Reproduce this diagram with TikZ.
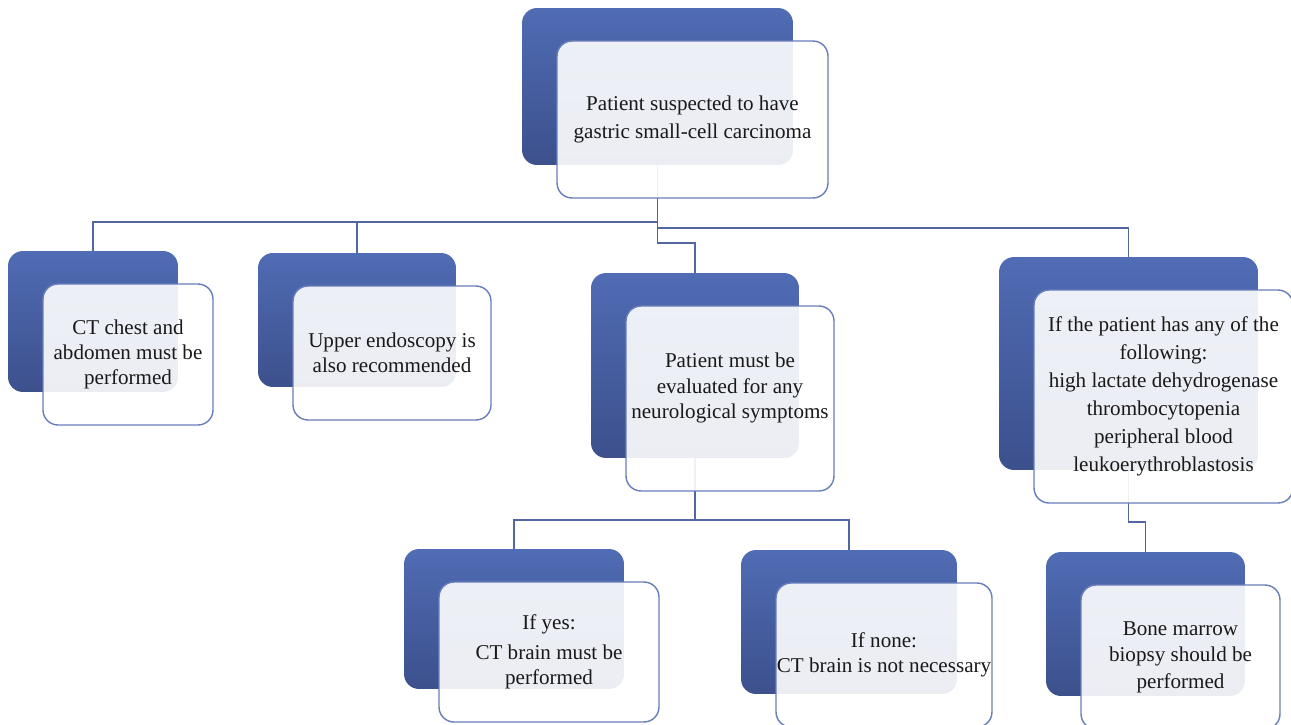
\documentclass[tikz,border=0pt]{standalone}
\usepackage{fontspec}
\setmainfont{Liberation Serif}
\usetikzlibrary{positioning}
\definecolor{boxtop}{RGB}{80,108,180}
\definecolor{boxbot}{RGB}{60,80,140}
\definecolor{rim}{RGB}{104,126,188}
\definecolor{wire}{RGB}{82,102,162}
\definecolor{ink}{RGB}{25,25,25}
\tikzset{
  backbox/.style={rounded corners=0.3cm, top color=boxtop, bottom color=boxbot,
    draw=none, inner sep=0pt, outer sep=0pt},
  frontbox/.style={rounded corners=0.3cm, draw=rim, line width=0.8pt,
    fill=white, fill opacity=0.9, text opacity=1, text=ink, align=center,
    inner sep=0pt, outer sep=0pt, font=\fontsize{12}{14}\selectfont},
  link/.style={draw=wire, line width=0.8pt},
}
\begin{document}
\begin{tikzpicture}[x=0.02cm, y=-0.02cm]
  \useasboundingbox (0,0) rectangle (1291,724);
  % back boxes
  \node[backbox, minimum width=5.42cm, minimum height=3.14cm] (topB) at (657.5,86.5) {};
  \node[backbox, minimum width=3.40cm, minimum height=2.82cm] (ctB) at (93,321.5) {};
  \node[backbox, minimum width=3.96cm, minimum height=2.68cm] (endoB) at (357,320) {};
  \node[backbox, minimum width=4.16cm, minimum height=3.70cm] (neuroB) at (695,365.5) {};
  \node[backbox, minimum width=5.18cm, minimum height=4.26cm] (rightB) at (1128.5,363.5) {};
  \node[backbox, minimum width=4.40cm, minimum height=2.80cm] (yesB) at (514,619) {};
  \node[backbox, minimum width=4.32cm, minimum height=2.88cm] (noneB) at (849,622) {};
  \node[backbox, minimum width=3.98cm, minimum height=2.88cm] (boneB) at (1145.5,624) {};
  % connectors
  \path (topB.south) ++(0,57) coordinate (busL);
  \path (topB.south) ++(0,63) coordinate (busR);
  \path (topB.south) ++(0,78) coordinate (busN);
  \draw[link] (topB.south) -- (busN) -| (neuroB.north);
  \draw[link] (busL) -| (ctB.north);
  \draw[link] (busL) -| (endoB.north);
  \draw[link] (busR) -| (rightB.north);
  \path (neuroB.south) ++(0,62) coordinate (busY);
  \draw[link] (neuroB.south) -- (busY) -| (yesB.north);
  \draw[link] (busY) -| (noneB.north);
  \path (rightB.south) ++(0,52) coordinate (busB);
  \draw[link] (rightB.south) -- (busB) -| (boneB.north);
  % front boxes
  \node[frontbox, minimum width=5.42cm, minimum height=3.14cm, font=\fontsize{12}{16}\selectfont]
    (top) at ([shift={(35,33)}]topB.center) {Patient suspected to have\\gastric small-cell carcinoma};
  \node[frontbox, minimum width=3.40cm, minimum height=2.82cm]
    (ct) at ([shift={(35,33)}]ctB.center) {CT chest and\\abdomen must be\\performed};
  \node[frontbox, minimum width=3.96cm, minimum height=2.68cm]
    (endo) at ([shift={(35,33)}]endoB.center) {Upper endoscopy is\\also recommended};
  \node[frontbox, minimum width=4.16cm, minimum height=3.70cm, font=\fontsize{12}{14.5}\selectfont]
    (neuro) at ([shift={(35,33)}]neuroB.center) {Patient must be\\evaluated for any\\neurological symptoms\\\mbox{}};
  \node[frontbox, minimum width=5.18cm, minimum height=4.26cm, font=\fontsize{12}{16}\selectfont]
    (right) at ([shift={(35,33)}]rightB.center) {If the patient has any of the\\following:\\high lactate dehydrogenase\\thrombocytopenia\\peripheral blood\\leukoerythroblastosis};
  \node[frontbox, minimum width=4.40cm, minimum height=2.80cm]
    (yes) at ([shift={(35,33)}]yesB.center) {If yes:\\[3pt]CT brain must be\\performed};
  \node[frontbox, minimum width=4.32cm, minimum height=2.88cm]
    (none) at ([shift={(35,33)}]noneB.center) {If none:\\CT brain is not necessary};
  \node[frontbox, minimum width=3.98cm, minimum height=2.88cm, font=\fontsize{12}{15}\selectfont]
    (bone) at ([shift={(35,33)}]boneB.center) {Bone marrow\\biopsy should be\\performed};
\end{tikzpicture}
\end{document}
